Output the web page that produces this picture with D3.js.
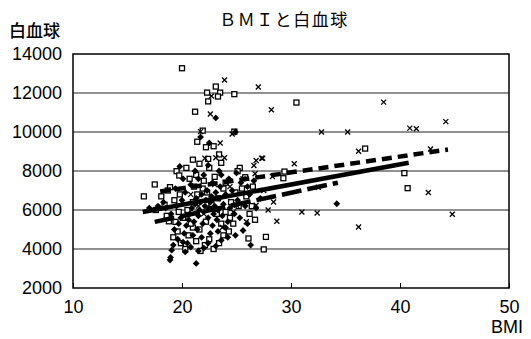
<!DOCTYPE html>
<html>
<head>
<meta charset="utf-8">
<script src="https://cdn.jsdelivr.net/npm/d3@7"></script>
<style>
  body { margin: 0; background: #fff; }
  text { font-family: "Liberation Sans", Arial, sans-serif; fill: #000; }
  .jp { font-family: "Noto Sans CJK JP", sans-serif; }
</style>
</head>
<body>
<div id="chart"></div>
<script>
// x tick values and y tick values
const xTicks = [10, 20, 30, 40, 50]
const yTicks = [2000, 4000, 6000, 8000, 10000, 12000, 14000]

// filled diamonds [BMI, WBC]
const diamonds = [
  [18.9,3430],[18.95,3570],[19.05,3940],[21.3,3260],[20.3,3850],[19.2,4200],[19.6,4500],[20.1,4350],
  [20.8,4100],[21.5,3900],[22.0,4050],[22.4,4300],[23.1,4150],[23.6,4450],[24.2,4600],[24.9,4700],
  [26.3,4200],[25.6,4950],[26.0,5300],[19.8,8230],[21.7,9740],[22.5,9440],[23.1,10720],[24.9,10000],
  [34.2,6320],[19.3,5000],[19.7,5300],[19.9,5600],[20.2,4800],[20.4,5200],[20.6,5500],[20.7,5800],
  [20.9,6100],[21.0,4700],[21.1,5400],[21.2,6300],[21.3,6600],[21.4,5000],[21.5,5700],[21.6,6000],
  [21.7,6400],[21.8,6800],[21.9,5300],[22.0,5900],[22.1,6200],[22.2,6500],[22.3,7000],[22.4,5600],
  [22.5,6100],[22.6,6400],[22.7,6700],[22.8,5200],[22.9,5800],[23.0,6200],[23.1,6900],[23.2,5500],
  [23.3,6000],[23.4,6600],[23.5,7200],[23.7,5700],[23.8,6300],[24.0,6800],[24.2,5400],[24.4,6100],
  [24.6,7000],[24.8,5800],[25.1,6500],[25.4,7400],[25.8,6200],[26.2,6800],[26.6,7500],[20.0,6500],
  [20.3,6900],[19.5,6200],[19.0,5800],[18.5,6100],[18.3,6400],[17.8,6200],[17.0,6100],[20.8,7300],
  [21.5,7600],[22.0,7800],[22.8,7400],[23.6,7800],[24.3,7600],[25.0,7900],[20.5,4300],[21.8,4600],
  [22.6,4800],[23.3,4900],[24.0,5100],[25.3,5600],[26.8,6100],[27.2,6600],[26.0,7200],[21.2,8000],
  [22.4,8300],[23.4,8000],[20.1,7600],[19.4,7100]
]

// open squares [BMI, WBC]
const squares = [
  [20.0,13270],[23.1,12330],[22.3,12020],[23.5,12020],[23.3,11820],[24.8,11940],[22.4,11570],[21.2,11040],
  [21.9,10070],[24.8,10020],[21.4,9500],[22.2,9220],[22.9,9270],[30.5,11510],[36.8,9150],[29.4,7970],
  [29.3,7630],[40.4,7890],[40.7,7120],[27.7,4620],[27.5,3980],[21.0,8580],[21.6,8370],[22.4,8620],
  [22.5,8160],[23.6,8420],[23.4,8850],[20.4,8160],[19.5,7990],[19.75,7770],[17.5,7310],[25.3,8160],
  [25.1,7990],[25.8,7680],[16.5,6700],[18.4,6270],[18.9,7170],[19.4,5390],[18.8,5420],[26.1,4540],
  [19.2,4600],[19.6,4900],[19.9,4300],[20.3,4000],[20.6,4700],[21.0,5100],[21.3,4400],[21.7,3900],
  [22.1,4200],[22.5,4500],[22.9,4000],[23.4,4300],[23.8,4700],[24.3,4900],[24.7,5300],[20.1,5600],
  [20.5,6000],[21.0,6400],[21.4,6800],[21.9,7100],[22.3,6900],[22.7,6300],[23.2,5800],[23.6,5300],
  [24.0,5900],[24.5,6400],[24.9,6900],[25.5,7100],[26.2,5800],[26.7,5500],[19.8,6800],[19.3,6500],
  [18.7,7000],[18.1,6700],[17.6,6000],[20.7,7600],[21.3,7800],[22.0,7500],[23.0,7700],[24.0,7400],
  [25.2,6200],[25.9,6700],[26.5,7200],[23.3,6600],[22.2,5400],[21.6,5000],[20.8,5300],[19.7,5900],
  [18.6,5700],[24.4,5600],[21.1,7200],[23.8,7100],[26.4,6200]
]

// crosses [BMI, WBC]
const crosses = [
  [23.9,12670],[27.0,12310],[22.7,11850],[22.6,10920],[28.2,11140],[21.7,10020],[24.6,9900],[23.5,9440],
  [38.5,11530],[44.2,10530],[32.8,10000],[35.2,10000],[40.9,10200],[41.5,10170],[36.2,9010],[42.8,9130],
  [27.3,8660],[30.3,8370],[28.3,7720],[32.5,7170],[42.6,6900],[28.4,6410],[31.0,5900],[32.4,5850],
  [44.8,5780],[28.7,5420],[36.2,5130],[26.8,8540],[27.4,8650],[26.6,8280],[26.7,7860],[23.1,8680],
  [23.9,8680],[22.1,8650],[25.0,6240],[26.8,6240],[24.4,7200],[25.6,7600],[23.0,7300],[22.3,6500],
  [21.5,6200],[24.7,5900],[25.9,5400],[23.7,5100],[27.5,7000],[27.9,6000],[22.0,5800],[20.8,6800]
]

// trend lines: [bmi1, wbc1, bmi2, wbc2]
const solidTrend = [16.4, 5900, 40.8, 8420]
const shortDashTrend = [18.0, 6950, 44.4, 9100]
const longDashTrend = [17.5, 5390, 34.3, 7400]

const margin = {top: 54, right: 22, bottom: 51, left: 73},
  width = 531 - margin.left - margin.right,
  height = 339 - margin.top - margin.bottom;

const svg = d3.select("#chart")
  .append("svg")
  .attr("width", 531)
  .attr("height", 339)

const g = svg.append("g")
  .attr("transform", `translate(${margin.left},${margin.top})`)

const x = d3.scaleLinear().domain([10, 50]).range([0, width])
const y = d3.scaleLinear().domain([2000, 14000]).range([height, 0])

// gridlines
g.selectAll(".grid")
  .data(yTicks.slice(1, -1))
  .join("line")
  .attr("x1", 0).attr("x2", width)
  .attr("y1", d => y(d)).attr("y2", d => y(d))
  .attr("stroke", "#222").attr("stroke-width", 1)

// frame
g.append("rect")
  .attr("width", width).attr("height", height)
  .attr("fill", "none").attr("stroke", "#000").attr("stroke-width", 1.5)

// axes
const xAxis = g.append("g")
  .attr("transform", `translate(0,${height})`)
  .call(d3.axisBottom(x).tickValues(xTicks).tickSize(-5).tickPadding(12).tickFormat(d3.format("d")))
xAxis.select(".domain").remove()
xAxis.selectAll("text").style("font-size", "18px")

const yAxis = g.append("g")
  .call(d3.axisLeft(y).tickValues(yTicks).tickSize(0).tickPadding(11).tickFormat(d3.format("d")))
yAxis.select(".domain").remove()
yAxis.selectAll("text").style("font-size", "18px")

// trend lines
function trend(t, dash) {
  g.append("line")
    .attr("x1", x(t[0])).attr("y1", y(t[1]))
    .attr("x2", x(t[2])).attr("y2", y(t[3]))
    .attr("stroke", "#000").attr("stroke-width", 4.5)
    .attr("stroke-dasharray", dash)
}

// points
g.selectAll(".sq")
  .data(squares)
  .join("rect")
  .attr("x", d => x(d[0]) - 2.5).attr("y", d => y(d[1]) - 2.5)
  .attr("width", 5).attr("height", 5)
  .attr("fill", "#fff").attr("stroke", "#000").attr("stroke-width", 1.3)

g.selectAll(".dm")
  .data(diamonds)
  .join("path")
  .attr("transform", d => `translate(${x(d[0])},${y(d[1])})`)
  .attr("d", "M0,-3.4L3.4,0L0,3.4L-3.4,0Z")
  .attr("fill", "#000")

g.selectAll(".cr")
  .data(crosses)
  .join("path")
  .attr("transform", d => `translate(${x(d[0])},${y(d[1])})`)
  .attr("d", "M-2.5,-2.5L2.5,2.5M-2.5,2.5L2.5,-2.5")
  .attr("stroke", "#000").attr("stroke-width", 1.3)

trend(solidTrend, null)
trend(shortDashTrend, "10,6")
trend(longDashTrend, "20,6")

// titles
svg.append("text")
  .attr("class", "jp")
  .attr("x", 284).attr("y", 26)
  .attr("text-anchor", "middle")
  .style("font-size", "17px")
  .style("letter-spacing", "1.5px")
  .text("ＢＭＩと白血球")

svg.append("text")
  .attr("class", "jp")
  .attr("x", 9).attr("y", 37)
  .style("font-size", "17px")
  .style("font-weight", "500")
  .text("白血球")

svg.append("text")
  .attr("x", 523).attr("y", 333)
  .attr("text-anchor", "end")
  .style("font-size", "18px")
  .text("BMI")
</script>
</body>
</html>
